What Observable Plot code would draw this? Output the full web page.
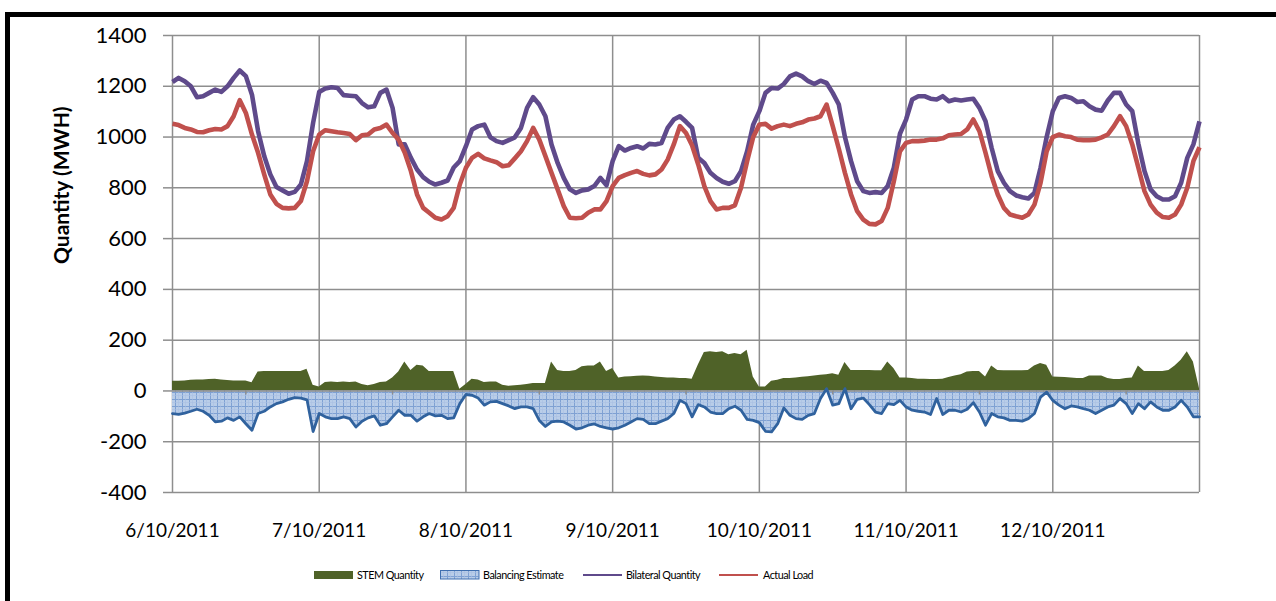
<!DOCTYPE html>
<html>
<head>
<meta charset="utf-8">
<script src="https://cdn.jsdelivr.net/npm/d3@7"></script>
<script src="https://cdn.jsdelivr.net/npm/@observablehq/plot@0.6"></script>
<style>
  html, body { margin: 0; padding: 0; background: #fff; }
  body { width: 1276px; height: 601px; position: relative; overflow: hidden; font-family: Lato, "Open Sans", sans-serif; }
  #frame { position: absolute; left: 5px; top: 12px; width: 1400px; height: 800px; border-left: 5px solid #000; border-top: 5px solid #000; }
  #chart { position: absolute; left: 0; top: 0; }
  #legend { position: absolute; left: 0; top: 567px; width: 1276px; height: 16px; font-size: 10.8px; color: #000; }
  .sw { position: absolute; }
  .lt { position: absolute; top: 0; line-height: 16px; letter-spacing: -0.5px; white-space: nowrap; }
</style>
</head>
<body>
<svg width="0" height="0" style="position:absolute">
  <defs>
    <pattern id="hatch" width="7" height="7" patternUnits="userSpaceOnUse">
      <rect width="7" height="7" fill="#B9CDE8"></rect>
      <path d="M0 0.5H7M0.5 0V7" stroke="#7FA1D3" stroke-width="1"></path>
      <path d="M0 3.5H7M3.5 0V7" stroke="#A9C0E2" stroke-width="0.6"></path>
    </pattern>
  </defs>
</svg>
<div id="frame"></div>
<div id="chart"></div>
<div id="legend"></div>
<script>
// ---------------- data (hourly readings, 6/10/2011 00:00 .. 13/10/2011 00:00) ----------------
const dateLabels = ["6/10/2011", "7/10/2011", "8/10/2011", "9/10/2011", "10/10/2011", "11/10/2011", "12/10/2011"];
const yTickValues = [-400, -200, 0, 200, 400, 600, 800, 1000, 1200, 1400];
const yTitle = "Quantity (MWH)";
const seriesNames = ["STEM Quantity", "Balancing Estimate", "Bilateral Quantity", "Actual Load"];

const bilateralQuantity = [
  1217,1233,1220,1200,1157,1161,1174,1187,1178,1200,1233,1262,1240,1167,1023,925,853,803,790,777,784,813,905,1056,
  1178,1191,1196,1193,1165,1163,1161,1134,1117,1121,1174,1187,1115,971,971,918,872,842,824,813,820,829,880,905,
  964,1030,1043,1049,999,984,977,988,999,1036,1115,1157,1128,1082,971,898,839,794,780,790,794,807,839,810,
  905,964,947,957,964,955,973,971,977,1036,1069,1082,1060,1036,918,898,859,839,824,816,826,866,944,1049,
  1102,1174,1193,1191,1209,1239,1250,1239,1220,1209,1222,1213,1174,1128,1000,905,826,787,780,783,780,807,879,1013,
  1069,1148,1161,1161,1151,1148,1161,1141,1148,1144,1148,1151,1115,1062,957,866,820,787,770,763,758,780,879,1000,
  1102,1154,1161,1154,1138,1141,1121,1108,1104,1144,1174,1174,1128,1102,974,866,794,767,754,754,767,820,918,971,
  1062
];
const actualLoad = [
  1052,1047,1036,1030,1020,1019,1027,1032,1030,1043,1082,1145,1095,1010,938,853,774,737,721,719,721,748,826,944,
  1010,1027,1023,1019,1016,1012,988,1007,1010,1030,1036,1049,1016,990,938,866,774,721,702,682,675,688,721,813,
  879,918,934,916,908,901,885,889,916,944,984,1036,990,925,859,794,728,682,680,682,702,715,715,748,
  807,839,850,859,866,855,849,853,872,911,971,1043,1016,967,892,807,748,715,721,721,731,800,905,1000,
  1049,1052,1033,1043,1049,1043,1052,1058,1069,1073,1082,1128,1043,954,859,774,708,675,658,656,669,721,826,944,
  977,984,984,986,990,990,995,1007,1010,1012,1030,1069,1023,938,846,774,721,695,688,682,695,734,820,944,
  1000,1010,1003,1000,990,988,988,990,999,1010,1043,1082,1043,971,879,787,734,702,685,682,695,734,800,905,
  960
];
const stemQuantity = [
  38,38,39,42,43,43,45,46,43,41,39,39,39,32,75,77,77,77,77,77,77,77,85,22,
  16,33,35,33,35,33,35,25,20,25,33,35,51,75,114,81,101,98,77,77,77,77,77,7,
  25,46,43,33,35,35,22,18,20,22,25,29,29,29,114,81,77,77,81,95,98,98,114,77,
  88,51,55,56,58,59,58,55,53,51,51,49,49,46,101,151,154,151,154,143,147,143,160,55,
  16,16,38,42,49,49,51,54,56,59,62,64,68,62,112,81,81,81,81,80,80,114,88,51,
  51,49,46,46,45,45,46,53,59,64,75,77,77,55,98,81,80,80,80,80,81,98,108,101,
  55,54,53,51,49,49,59,59,59,49,45,45,49,51,98,77,77,77,77,81,98,121,154,114,
  9
];
const balancingEstimate = [
  -89,-92,-87,-80,-72,-80,-96,-122,-119,-106,-116,-102,-129,-155,-89,-80,-63,-50,-43,-33,-26,-28,-35,-160,
  -89,-102,-109,-109,-102,-109,-142,-119,-106,-98,-135,-129,-102,-76,-96,-96,-119,-102,-89,-98,-96,-109,-106,-50,
  -14,-17,-28,-56,-43,-41,-50,-59,-70,-63,-63,-70,-116,-140,-122,-119,-122,-135,-150,-145,-135,-130,-140,-145,
  -150,-145,-135,-122,-109,-112,-129,-129,-119,-109,-89,-37,-50,-102,-54,-63,-83,-89,-89,-70,-60,-76,-112,-116,
  -125,-159,-161,-129,-67,-96,-109,-112,-96,-89,-30,9,-56,-50,9,-70,-33,-28,-54,-83,-89,-50,-54,-37,
  -63,-76,-80,-83,-93,-30,-93,-76,-76,-83,-72,-46,-83,-135,-89,-102,-106,-116,-116,-119,-109,-89,-24,-5,
  -37,-56,-70,-59,-63,-70,-76,-89,-76,-63,-56,-30,-50,-89,-50,-70,-43,-63,-76,-76,-63,-37,-63,-102,
  -102
];

// ---------------- build ----------------
const hoursPerDay = 24;
const rows = bilateralQuantity.map((v, i) => ({
  h: i, bil: v, act: actualLoad[i], stem: stemQuantity[i], bal: balancingEstimate[i]
}));
const nHours = rows.length - 1;
const dayTicks = d3.range(0, nHours + 1, hoursPerDay);
const halfDayTicks = d3.range(hoursPerDay / 2, nHours, hoursPerDay);
const gridColor = "#8E8E8E";

const chart = Plot.plot({
  width: 1276,
  height: 545,
  marginLeft: 172,
  marginRight: 77,
  marginTop: 35,
  marginBottom: 53,
  style: { fontFamily: "Lato, 'Open Sans', sans-serif", color: "#000", background: "transparent", overflow: "visible" },
  x: { domain: [0, nHours] },
  y: { domain: [-400, 1400] },
  marks: [
    Plot.gridY(yTickValues, { stroke: gridColor, strokeOpacity: 1, strokeWidth: 1.5 }),
    Plot.gridX(dayTicks, { stroke: gridColor, strokeOpacity: 1, strokeWidth: 1.5 }),
    Plot.areaY(rows, { x: "h", y: "stem", fill: "#4F6228" }),
    Plot.areaY(rows, { x: "h", y1: 0, y2: "bal", fill: "url(#hatch)" }),
    Plot.ruleY([0], { stroke: gridColor, strokeWidth: 1.5 }),
    Plot.ruleX(halfDayTicks, { y1: 0, y2: -16, stroke: gridColor, strokeWidth: 1.5 }),
    Plot.lineY(rows, { x: "h", y: "bal", stroke: "#30629E", strokeWidth: 2.8, strokeLinejoin: "round" }),
    Plot.lineY(rows, { x: "h", y: "bil", stroke: "#5F4A8B", strokeWidth: 4.6, strokeLinejoin: "round", strokeLinecap: "butt" }),
    Plot.lineY(rows, { x: "h", y: "act", stroke: "#C0504D", strokeWidth: 4.6, strokeLinejoin: "round", strokeLinecap: "butt" }),
    Plot.axisY(yTickValues, {
      tickSize: 9, tickPadding: 17, fontSize: 22, stroke: gridColor, strokeWidth: 1.5,
      fill: "#000", tickFormat: d => String(d), label: null
    }),
    Plot.axisX(dayTicks.slice(0, dateLabels.length), {
      tickSize: 0, tickPadding: 31, fontSize: 19, fill: "#000",
      tickFormat: (d, i) => dateLabels[i], label: null
    }),
    Plot.text([yTitle], {
      frameAnchor: "left", rotate: -90, dx: -110, fontSize: 21, fontWeight: "bold", fill: "#000"
    })
  ]
});
document.getElementById("chart").appendChild(chart);

// ---------------- legend ----------------
const legend = document.getElementById("legend");
const legendItems = [
  { name: seriesNames[0], sw: 314, tx: 357, kind: "rect", color: "#4F6228" },
  { name: seriesNames[1], sw: 440, tx: 483, kind: "hatch", color: "#3F6FB0" },
  { name: seriesNames[2], sw: 583, tx: 626, kind: "line", color: "#5F4A8B" },
  { name: seriesNames[3], sw: 719, tx: 763, kind: "line", color: "#C0504D" }
];
for (const it of legendItems) {
  const s = document.createElementNS("http://www.w3.org/2000/svg", "svg");
  s.setAttribute("width", 40); s.setAttribute("height", 12);
  s.setAttribute("class", "sw");
  s.style.left = it.sw + "px"; s.style.top = "2px";
  if (it.kind === "rect") {
    s.innerHTML = `<rect x="0" y="2" width="39" height="8" fill="${it.color}"/>`;
  } else if (it.kind === "hatch") {
    s.innerHTML = `<rect x="0.5" y="1.5" width="38.5" height="8.5" fill="url(#hatch)" stroke="${it.color}" stroke-width="1"/>`;
  } else {
    s.innerHTML = `<line x1="0" x2="39" y1="6" y2="6" stroke="${it.color}" stroke-width="2"/>`;
  }
  legend.appendChild(s);
  const t = document.createElement("div");
  t.className = "lt";
  t.style.left = it.tx + "px";
  t.textContent = it.name;
  legend.appendChild(t);
}
</script>
</body>
</html>
